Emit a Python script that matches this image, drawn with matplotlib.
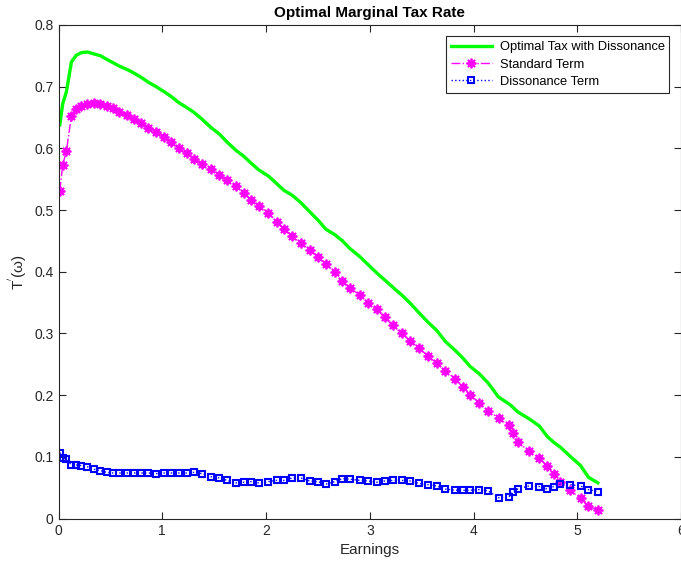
import numpy as np
import matplotlib
matplotlib.use("Agg")
import matplotlib.pyplot as plt

plt.rcParams["font.family"] = ["Liberation Sans", "DejaVu Sans"]

# earnings grid
earnings = [0.012, 0.040, 0.076, 0.124, 0.172, 0.220, 0.278, 0.339, 0.403, 0.465,
            0.522, 0.587, 0.657, 0.725, 0.796, 0.866, 0.940, 1.014, 1.085, 1.159,
            1.236, 1.307, 1.384, 1.467, 1.551, 1.625, 1.708, 1.786, 1.856, 1.930,
            2.023, 2.101, 2.171, 2.252, 2.335, 2.422, 2.499, 2.576, 2.663, 2.737,
            2.806, 2.907, 2.987, 3.068, 3.142, 3.221, 3.310, 3.390, 3.477, 3.563,
            3.645, 3.729, 3.821, 3.898, 3.965, 4.053, 4.140, 4.241, 4.341, 4.376,
            4.426, 4.534, 4.635, 4.711, 4.771, 4.836, 4.932, 5.032, 5.108, 5.198]

standard = [0.531, 0.573, 0.596, 0.653, 0.664, 0.669, 0.672, 0.673, 0.672, 0.669,
            0.665, 0.659, 0.654, 0.648, 0.641, 0.633, 0.627, 0.618, 0.610, 0.600,
            0.592, 0.583, 0.574, 0.566, 0.557, 0.548, 0.539, 0.528, 0.516, 0.507,
            0.495, 0.481, 0.470, 0.458, 0.446, 0.436, 0.424, 0.413, 0.400, 0.385,
            0.374, 0.362, 0.350, 0.339, 0.326, 0.313, 0.300, 0.288, 0.276, 0.263,
            0.252, 0.239, 0.227, 0.214, 0.201, 0.188, 0.175, 0.163, 0.151, 0.138,
            0.125, 0.109, 0.098, 0.085, 0.072, 0.060, 0.046, 0.033, 0.020, 0.014]

dissonance = [0.107, 0.099, 0.096, 0.087, 0.087, 0.086, 0.084, 0.080, 0.078, 0.075,
              0.074, 0.074, 0.074, 0.074, 0.074, 0.074, 0.073, 0.074, 0.074, 0.074,
              0.074, 0.075, 0.073, 0.068, 0.066, 0.062, 0.058, 0.059, 0.060, 0.058,
              0.060, 0.062, 0.062, 0.066, 0.066, 0.061, 0.060, 0.056, 0.060, 0.065,
              0.064, 0.062, 0.061, 0.059, 0.061, 0.062, 0.062, 0.061, 0.057, 0.055,
              0.053, 0.048, 0.046, 0.046, 0.046, 0.047, 0.045, 0.034, 0.035, 0.043,
              0.048, 0.053, 0.052, 0.048, 0.052, 0.056, 0.055, 0.053, 0.047, 0.044]

optimal = [0.638, 0.672, 0.692, 0.740, 0.751, 0.755, 0.756, 0.753, 0.750, 0.744,
           0.739, 0.733, 0.728, 0.722, 0.715, 0.707, 0.700, 0.692, 0.684, 0.674,
           0.666, 0.658, 0.647, 0.634, 0.623, 0.610, 0.597, 0.587, 0.576, 0.565,
           0.555, 0.543, 0.532, 0.524, 0.512, 0.497, 0.484, 0.469, 0.460, 0.450,
           0.438, 0.424, 0.411, 0.398, 0.387, 0.375, 0.362, 0.349, 0.333, 0.318,
           0.305, 0.287, 0.273, 0.260, 0.247, 0.235, 0.220, 0.197, 0.186, 0.181,
           0.173, 0.162, 0.150, 0.133, 0.124, 0.116, 0.101, 0.086, 0.067, 0.058]

labels = ["Optimal Tax with Dissonance", "Standard Term", "Dissonance Term"]

fig = plt.figure(figsize=(6.81, 5.65), dpi=100)
ax = fig.add_axes([0.086, 0.082, 0.914, 0.874])

ax.plot(earnings, optimal, color=(0, 1, 0), lw=2.4, label=labels[0])
ax.plot(earnings, standard, color=(1, 0, 1), ls="-.", lw=1.0, marker=(8, 2, 0),
        ms=7, mew=1.3, label=labels[1])
ax.plot(earnings, dissonance, color=(0, 0, 1), ls=":", lw=1.0, marker="s",
        ms=5, mfc="none", mew=1.5, label=labels[2])

ax.set_xlim(0, 6)
ax.set_ylim(0, 0.8)
ax.set_xticks(range(7))
ax.set_yticks(np.arange(0, 0.81, 0.1))
ax.set_yticklabels(["0", "0.1", "0.2", "0.3", "0.4", "0.5", "0.6", "0.7", "0.8"])
ax.tick_params(direction="in", top=True, right=True, labelsize=10, length=5,
               color="#262626", labelcolor="#262626")
for s in ax.spines.values():
    s.set_color("#262626")
    s.set_linewidth(0.8)

ax.set_xlabel("Earnings", fontsize=11, color="#262626")
ax.set_ylabel(r"T$^{'}$(ω)", fontsize=11, color="#262626", labelpad=4)
ax.set_title("Optimal Marginal Tax Rate", fontsize=11, fontweight="bold", pad=6)

leg = ax.legend(loc="upper right", fontsize=9.3, fancybox=False, framealpha=1,
                edgecolor="#262626", handlelength=3.2, borderaxespad=0.9,
                borderpad=0.35, labelspacing=0.42, handletextpad=0.6)
leg.get_frame().set_linewidth(0.8)

fig.savefig("out.png", dpi=100)
